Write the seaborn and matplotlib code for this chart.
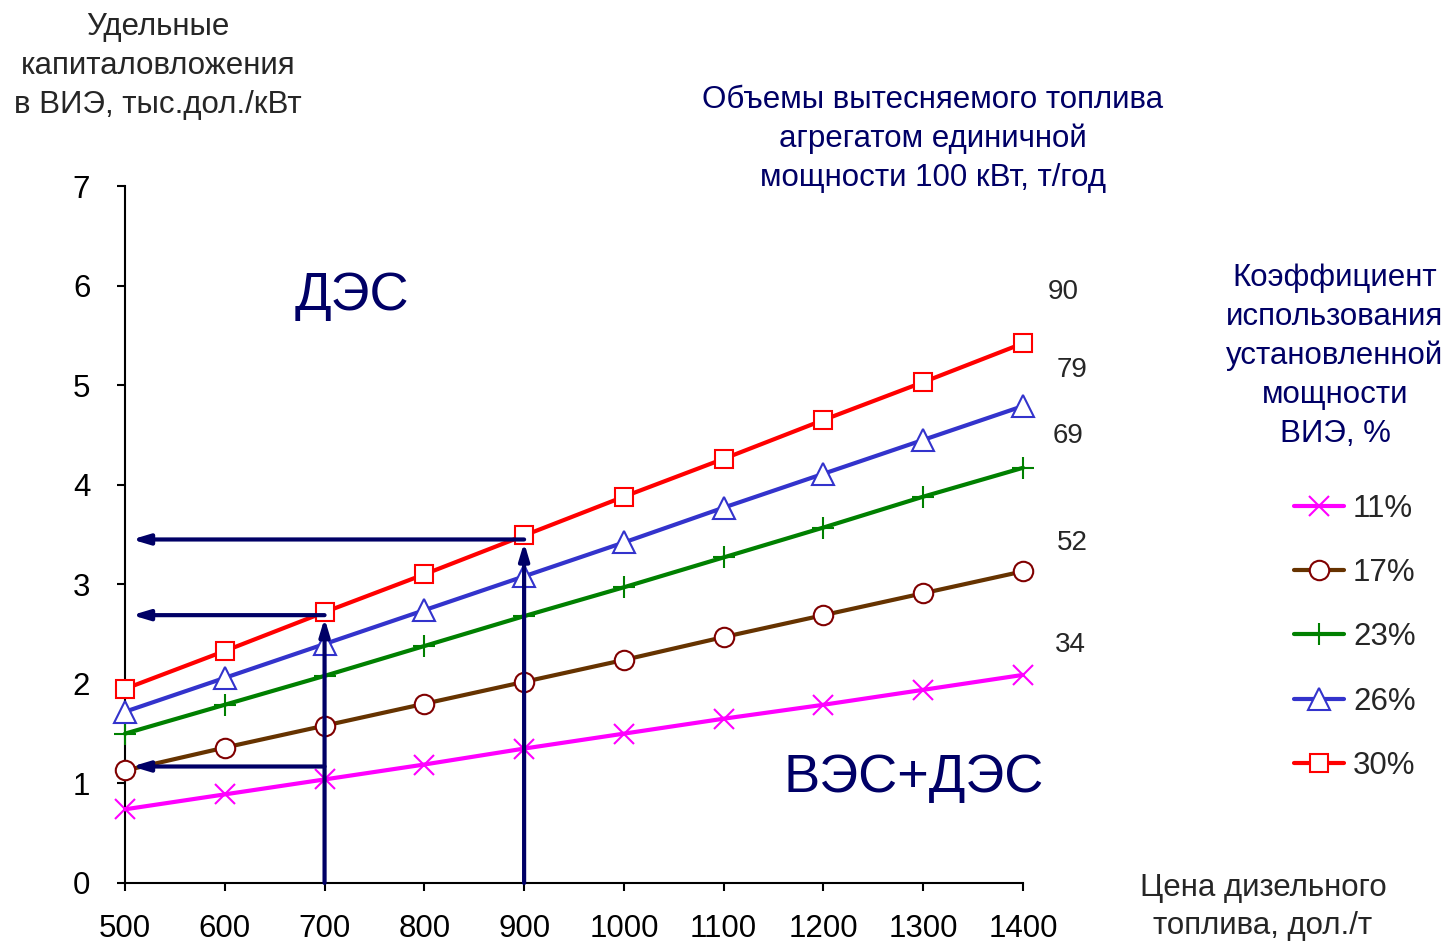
import matplotlib
matplotlib.use("Agg")
import matplotlib.pyplot as plt
import seaborn as sns
import pandas as pd

# Diesel fuel price, $/t
price = [500, 600, 700, 800, 900, 1000, 1100, 1200, 1300, 1400]

# Specific capital investment into renewables, thousand $/kW, by capacity factor
cf_labels = ["11%", "17%", "23%", "26%", "30%"]
inv_11 = [0.74, 0.89, 1.04, 1.19, 1.35, 1.50, 1.65, 1.79, 1.94, 2.09]
inv_17 = [1.13, 1.36, 1.58, 1.80, 2.02, 2.24, 2.47, 2.69, 2.91, 3.13]
inv_23 = [1.50, 1.79, 2.08, 2.38, 2.68, 2.97, 3.27, 3.57, 3.88, 4.17]
inv_26 = [1.72, 2.06, 2.40, 2.74, 3.08, 3.42, 3.77, 4.11, 4.45, 4.79]
inv_30 = [1.95, 2.33, 2.72, 3.10, 3.49, 3.88, 4.26, 4.65, 5.03, 5.42]

# Displaced fuel volume per 100 kW unit, t/year (right-hand annotations)
fuel_volume = ["34", "52", "69", "79", "90"]
fuel_label_pos = [(1447, 2.39), (1449, 3.41), (1445, 4.49), (1449, 5.15), (1440, 5.94)]

# Reading guides: (x_from, y_from, x_to, y_to)
guides = [
    (700, 0.0, 700, 2.66),
    (900, 0.0, 900, 3.42),
    (900, 3.45, 507, 3.45),
    (700, 2.69, 507, 2.69),
    (700, 1.17, 507, 1.17),
]

sns.set_style("white")
plt.rcParams["font.family"] = ["Liberation Sans", "DejaVu Sans"]

FS = 22.5
navy = "#000066"
styles = [
    dict(color="#FF00FF", marker="x", mfc="none", mec="#FF00FF", ms=14, mew=1.5),
    dict(color="#663300", marker="o", mfc="white", mec="#800000", ms=14, mew=1.5),
    dict(color="#008000", marker="+", mfc="none", mec="#008000", ms=16, mew=1.5),
    dict(color="#3333CC", marker="^", mfc="white", mec="#3333CC", ms=15.5, mew=1.5),
    dict(color="#FF0000", marker="s", mfc="white", mec="#FF0000", ms=13.5, mew=1.5),
]
series = [inv_11, inv_17, inv_23, inv_26, inv_30]

fig = plt.figure(figsize=(14.55, 9.42), dpi=100)
ax = fig.add_axes([125 / 1455, 1 - 883 / 942, (1023 - 125) / 1455, (883 - 186) / 942])

for lab, vals, st in zip(cf_labels, series, styles):
    df = pd.DataFrame({"price": price, "inv": vals})
    sns.lineplot(data=df, x="price", y="inv", ax=ax, color=st["color"], lw=3,
                 marker=st["marker"], markersize=st["ms"], markerfacecolor=st["mfc"],
                 markeredgecolor=st["mec"], markeredgewidth=st["mew"],
                 label=lab, clip_on=False, zorder=3)

for x0, y0, x1, y1 in guides:
    ax.annotate("", xy=(x1, y1), xytext=(x0, y0),
                arrowprops=dict(arrowstyle="-|>,head_length=1.0,head_width=0.3",
                                color=navy, lw=3, shrinkA=0, shrinkB=0),
                zorder=5, annotation_clip=False)

ax.set_xlim(500, 1400)
ax.set_ylim(0, 7)
ax.set_xticks(price)
ax.set_yticks(range(0, 8))
ax.set_xlabel("")
ax.set_ylabel("")
for s in ["top", "right"]:
    ax.spines[s].set_visible(False)
for s in ["left", "bottom"]:
    ax.spines[s].set_linewidth(1.5)
    ax.spines[s].set_color("black")
ax.tick_params(axis="both", direction="out", length=6, width=1.5, colors="black",
               labelsize=FS, bottom=True, left=True)
ax.tick_params(axis="x", pad=16)
ax.tick_params(axis="y", pad=19)

for txt, (xv, yv) in zip(fuel_volume, fuel_label_pos):
    ax.text(xv, yv, txt, fontsize=20, ha="center", va="center", clip_on=False)

ax.text(727, 5.9, "ДЭС", fontsize=39, color=navy, ha="center", va="center")
ax.text(1290, 1.05, "ВЭС+ДЭС", fontsize=39, color=navy, ha="center", va="center")

handles, labels = ax.get_legend_handles_labels()
ax.legend(handles, labels, loc="upper left", bbox_to_anchor=(1278 / 1455, 1 - 478 / 942),
          bbox_transform=fig.transFigure, frameon=False, fontsize=FS,
          handlelength=1.6, handletextpad=0.3, labelspacing=1.1, borderpad=0)

fig.text(158 / 1455, 1 - 66 / 942, "Удельные\nкапиталовложения\nв ВИЭ, тыс.дол./кВт",
         fontsize=FS, ha="center", va="center", linespacing=1.38)
fig.text(933 / 1455, 1 - 139 / 942,
         "Объемы вытесняемого топлива\nагрегатом единичной\nмощности 100 кВт, т/год",
         fontsize=FS, color=navy, ha="center", va="center", linespacing=1.38)
fig.text(1335 / 1455, 1 - 356 / 942,
         "Коэффициент\nиспользования\nустановленной\nмощности\nВИЭ, %",
         fontsize=FS, color=navy, ha="center", va="center", linespacing=1.38)
fig.text(1263 / 1455, 1 - 907 / 942, "Цена дизельного\nтоплива, дол./т",
         fontsize=FS, ha="center", va="center", linespacing=1.34)

fig.savefig("out.png", dpi=100, facecolor="white")
